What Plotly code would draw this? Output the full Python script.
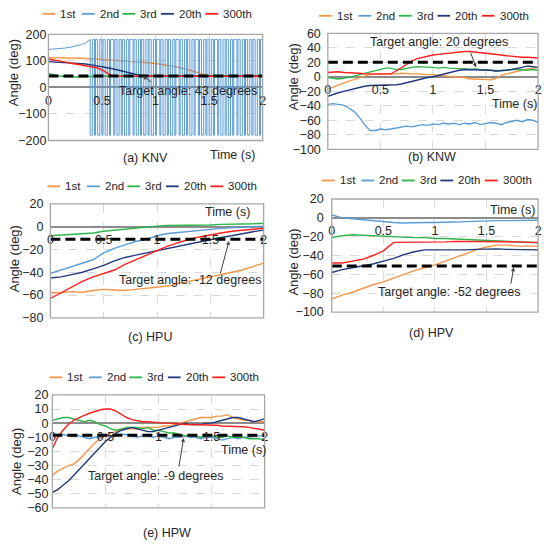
import numpy as np
import plotly.graph_objects as go

# ---------------- data ----------------
SERIES = ["1st", "2nd", "3rd", "20th", "300th"]
COLORS = ["#F79646", "#5B9BD5", "#2EB34B", "#1F3A7A", "#FF1F1F"]
PANEL_NAMES = ["(a) KNV", "(b) KNW", "(c) HPU", "(d) HPV", "(e) HPW"]
TARGET_LABELS = ["Target angle: 43 degrees", "Target angle: 20 degrees",
                 "Target angle: -12 degrees", "Target angle: -52 degrees",
                 "Target angle: -9 degrees"]
TARGET_LINE = [43, 20, -11, -51, -8.5]
X_TICKS = [0, 0.5, 1, 1.5, 2]
X_TICK_TEXT = ["0", "0.5", "1", "1.5", "2"]

T05 = np.round(np.arange(0, 2.0001, 0.05), 2)
T10 = np.round(np.arange(0, 2.0001, 0.1), 1)

# (a) KNV
a_1st = [112, 112, 112, 112, 111, 111, 110, 109, 108, 107, 106, 104, 103, 101, 100, 98, 97, 95, 93, 92,
         90, 87, 84, 81, 77, 72, 67, 61, 55, 49, 44, 42, 41, 41, 41, 41, 41, 41, 41, 41, 41]
a_2nd_t = [0, 0.05, 0.1, 0.15, 0.2, 0.25, 0.3, 0.35, 0.38]
a_2nd_v = [143, 144, 146, 148, 151, 155, 160, 168, 178]
a_2nd_flips = [0.39, 0.41, 0.43, 0.44, 0.46, 0.48, 0.50, 0.51, 0.53, 0.55, 0.57, 0.58, 0.61, 0.62,
               0.64, 0.66, 0.68, 0.69, 0.71, 0.73, 0.75, 0.76, 0.79, 0.80, 0.82, 0.84, 0.86, 0.87,
               0.89, 0.91, 0.93, 0.94, 0.96, 0.98, 1.00, 1.01, 1.04, 1.05, 1.07, 1.09, 1.11, 1.12,
               1.14, 1.16, 1.18, 1.19, 1.22, 1.23, 1.25, 1.27, 1.29, 1.30, 1.32, 1.34, 1.36, 1.37,
               1.40, 1.41, 1.43, 1.45, 1.47, 1.48, 1.50, 1.52, 1.54, 1.55, 1.58, 1.59, 1.61, 1.63,
               1.65, 1.66, 1.68, 1.70, 1.72, 1.73, 1.76, 1.77, 1.79, 1.81, 1.83, 1.84, 1.86, 1.88,
               1.90, 1.91, 1.93, 1.95, 1.97, 1.98]
a_wrap = 180
a_3rd = [53, 47, 43, 41, 39, 39, 40, 41, 42, 42, 42, 42, 42, 42, 42, 42, 42, 42, 42, 42,
         42, 42, 42, 42, 42, 42, 42, 42, 42, 42, 42, 42, 42, 42, 42, 42, 42, 42, 42, 42, 42]
a_20th = [97, 96, 95, 94, 93, 92, 90, 88, 85, 82, 78, 74, 70, 65, 60, 55, 50, 46, 43, 43,
          43, 43, 43, 43, 43, 43, 43, 43, 43, 43, 43, 43, 43, 43, 43, 43, 43, 43, 43, 43, 43]
a_300th = [107, 104, 100, 96, 92, 88, 84, 81, 78, 74, 66, 55, 43, 42, 42, 42, 42, 42, 42, 42,
           42, 42, 42, 42, 42, 42, 42, 42, 42, 42, 42, 42, 42, 42, 42, 42, 42, 42, 42, 42, 42]

# (b) KNW
b_1st = [-17, -14, -11, -9, -6, -4, -1, 1, 3, 3, 4, 3, 4, 4, 5, 4, 4, 4, 3, 3,
         3, 2, 1, 1, 0, -1, -1, -3, -3, -3, -4, -4, -2, 2, 4, 6, 7, 9, 11, 12, 13]
b_2nd = [-38, -37, -38, -39, -43, -48, -56, -66, -74, -74, -72, -73, -72, -71, -70, -68, -69, -67, -66, -67,
         -65, -66, -64, -65, -64, -66, -64, -65, -63, -66, -64, -63, -64, -66, -63, -62, -60, -62, -59, -60, -63]
b_3rd = [-1, -2, -3, -2, -1, 1, 3, 5, 7, 9, 10, 12, 12, 10, 10, 12, 13, 14, 14, 13,
         13, 12, 13, 12, 12, 11, 11, 10, 11, 10, 10, 9, 8, 9, 9, 10, 10, 9, 9, 10, 9]
b_20th = [-27, -24, -22, -20, -18, -16, -14, -13, -12, -12, -12, -11, -11, -11, -10, -8, -6, -5, -3, -1,
          0, 2, 4, 5, 7, 9, 10, 10, 9, 10, 9, 9, 8, 8, 9, 10, 11, 13, 15, 14, 13]
b_300th = [6, 7, 7, 6, 6, 5, 5, 4, 4, 4, 4, 3, 4, 8, 13, 18, 22, 25, 27, 29,
           30, 31, 32, 33, 34, 35, 35, 35, 34, 33, 32, 31, 30, 30, 29, 28, 28, 27, 27, 26, 26]

# (c) HPU
c_1st = [-58, -58, -57, -57.5, -56, -55, -55.5, -56, -55, -54, -53, -52, -50, -48, -46, -44, -42, -40, -38, -35, -32]
c_2nd = [-41, -38, -35, -32, -29, -23, -19, -16, -13, -11, -8, -6, -5, -4, -3, -2, -1.5, -1, -0.5, 0, 0.5]
c_3rd = [-8, -7.5, -7, -6.5, -5.5, -4, -3, -2.5, -1.5, -0.5, 0.5, 1, 1, 1.5, 1.5, 1.5, 2, 2, 2.5, 2.5, 3]
c_20th = [-45, -44, -42, -40, -37, -34, -30, -27, -25, -23, -21, -19, -17, -15, -13, -11, -9.5, -8, -6, -4.5, -3]
c_300th = [-63, -58, -53, -48, -44, -41, -38, -33, -29, -25, -21, -17, -14, -11, -9, -7, -5.5, -4, -3, -2, -1.5]

# (d) HPV
d_1st = [-86, -82, -79, -75, -71, -68, -64, -60, -56, -53, -50, -46, -42, -38, -34, -31, -29, -29, -30, -30, -30]
d_2nd = [3, 0, -1, -2, -3, -4.5, -5, -5.5, -5, -5, -5, -5, -4.5, -4, -3.5, -3.5, -3, -3, -3, -2.5, -2.5]
d_3rd = [-21, -19, -18, -18.5, -19.5, -20, -20.5, -20.5, -21, -21, -22, -22, -22.5, -23, -23.5, -24, -24.5, -25, -25.5, -26, -26.5]
d_20th = [-58, -55, -53, -51, -49, -46, -43, -39, -36, -34, -34, -34, -34.5, -34, -33.5, -33, -33, -33.5, -33.5, -34, -34]
d_300th = [-48, -48, -46, -44, -40, -35, -26, -26, -26, -26, -26, -25.5, -25, -25, -25, -25, -25, -25, -25.5, -26, -26]

# (e) HPW
e_1st = [-37, -34, -32, -30, -29, -26, -22, -18, -14, -11, -9, -7, -6, -5, -4, -4, -4, -3, -3, -3,
         -3, -2, -2, -1, 0, 1, 2, 3, 4, 4, 4, 5, 5, 6, 4, 3, 2, 2, 1, 1, 1]
e_2nd = [-8, -8, -8, -9, -9, -9, -10, -11, -10, -10, -9, -9, -8, -8, -8, -9, -10, -9, -9, -10,
         -9, -10, -11, -10, -10, -9, -10, -10, -11, -10, -10, -11, -12, -11, -10, -11, -10, -10, -9, -9, -9]
e_3rd = [2, 3, 4, 4, 3, 2, 1, 2, 1, -1, -2, -4, -5, -4, -3, -3, -3, -4, -3, -5,
         -5, -6, -7, -7, -8, -9, -9, -9, -10, -9, -9, -10, -10, -9, -10, -10, -10, -11, -11, -11, -12]
e_20th = [-49, -47, -44, -41, -37, -33, -29, -25, -21, -17, -13, -10, -7, -5, -4, -3, -4, -5, -6, -6,
          -5, -4, -3, -2, -1, 0, -1, -1, -1, 0, 0, 1, 2, 3, 4, 4, 3, 2, 1, 2, 3]
e_300th = [-18, -10, -5, -1, 2, 4, 5.5, 7, 8.5, 9.5, 10, 10, 8.5, 6, 4, 2.5, 1.5, 1, 1, 0.5,
           0.5, 0, 0, -0.5, -0.5, -1, -1, -1, -1, -1.5, -1.5, -1.5, -2, -2, -2, -2, -2.5, -3, -3.5, -4, -5]

Y_RANGES = [(-200, 200), (-100, 60), (-80, 20), (-100, 20), (-60, 20)]
Y_DTICK = [100, 20, 20, 20, 10]


def wrapped(t0, v0, flips, lim, t_end=2.0):
    xs, ys = list(t0), list(v0)
    s = lim
    for ft in flips:
        xs += [ft, ft]
        ys += [s, -s]
        s = -s
    xs.append(t_end)
    ys.append(s)
    return xs, ys


a2x, a2y = wrapped(a_2nd_t, a_2nd_v, a_2nd_flips, a_wrap)
PANEL_DATA = [
    [(T05, a_1st), (a2x, a2y), (T05, a_3rd), (T05, a_20th), (T05, a_300th)],
    [(T05, b_1st), (T05, b_2nd), (T05, b_3rd), (T05, b_20th), (T05, b_300th)],
    [(T10, c_1st), (T10, c_2nd), (T10, c_3rd), (T10, c_20th), (T10, c_300th)],
    [(T10, d_1st), (T10, d_2nd), (T10, d_3rd), (T10, d_20th), (T10, d_300th)],
    [(T05, e_1st), (T05, e_2nd), (T05, e_3rd), (T05, e_20th), (T05, e_300th)],
]
ARROW_HEADS = [(0.88, 43), (1.41, 13), (1.675, -12.5), (1.763, -52.5), (1.237, -10.5)]

# ---------------- layout (pixels) ----------------
W, H = 550, 551
FONT = "Liberation Sans, Arial, sans-serif"
BOX_PX = [((46, 263), (28, 137)), ((329, 542), (27, 146)), ((48, 264), (202, 319)),
          ((333, 542), (197, 313)), ((50, 265), (398, 514))]
YLAB_STANDOFF = [1, 6, 6, 7, 3]
TIME_PX = [(232, 152), (518, 100), (227, 210), (516, 208), (244, 455)]
ANGLE_PX = [(10, 67), (294, 72), (12, 258), (294, 262), (13, 466)]
CAPTION_PX = [(144, 155), (435, 154), (149, 339), (434, 334), (166, 540)]
TTEXT_PX = [(187, 86), (442, 36), (189, 280), (452, 292), (155, 481)]
ARROW_OFF = [(10, 7), (-6, -16), (-9, 34), (-3, 18), (-5, 30)]
LEG_PX = [(40, 7), (320, 9), (45, 184), (323, 178), (47, 380)]
LEG_OFFS = [0, 40, 81, 120, 165]


def px(x):
    return x / W


def py(y):
    return 1 - y / H


fig = go.Figure()
layout = dict(width=W, height=H, autosize=False, margin=dict(l=0, r=0, t=0, b=0),
              paper_bgcolor="white", plot_bgcolor="white", showlegend=False,
              font=dict(family=FONT, size=12, color="#262626"))
shapes, annos = [], []

for p in range(5):
    sfx = "" if p == 0 else str(p + 1)
    xa, ya = "x" + sfx, "y" + sfx
    (x0, x1), (yt, yb) = BOX_PX[p]
    ymin, ymax = Y_RANGES[p]
    yd0, yd1 = py(yb), py(yt)
    zero_pos = yd0 + (0 - ymin) / (ymax - ymin) * (yd1 - yd0)
    for i, (tx, vy) in enumerate(PANEL_DATA[p]):
        fig.add_trace(go.Scatter(x=list(tx), y=list(vy), mode="lines", name=SERIES[i],
                                 line=dict(color=COLORS[i], width=1.0 if (p == 0 and i == 1) else 1.4),
                                 xaxis=xa, yaxis=ya))
    fig.add_trace(go.Scatter(x=[0, 2], y=[TARGET_LINE[p]] * 2, mode="lines", name="Target",
                             line=dict(color="black", width=3, dash="10px,5px"),
                             xaxis=xa, yaxis=ya))
    layout["xaxis" + sfx] = dict(domain=[px(x0), px(x1)], range=[0, 2], anchor="free",
                                 position=zero_pos, tickvals=X_TICKS, ticktext=X_TICK_TEXT,
                                 showgrid=True, gridcolor="#D9D9D9", griddash="dash", gridwidth=1,
                                 zeroline=False, showline=False, ticks="", ticklabelstandoff=4,
                                 tickfont=dict(size=12.5, color="#262626"))
    layout["yaxis" + sfx] = dict(domain=[yd0, yd1], range=[ymin, ymax], anchor=xa, dtick=Y_DTICK[p],
                                 showgrid=True, gridcolor="#D9D9D9", griddash="dash", gridwidth=1,
                                 zeroline=True, zerolinecolor="#8C8C8C", zerolinewidth=1.5,
                                 showline=False, ticks="", ticklabelstandoff=YLAB_STANDOFF[p],
                                 tickfont=dict(size=12.5, color="#262626"))
    shapes.append(dict(type="rect", xref=xa + " domain", yref=ya + " domain", x0=0, x1=1, y0=0, y1=1,
                       line=dict(color="#A6A6A6", width=1.3), layer="above"))
    annos.append(dict(text="Time (s)", x=px(TIME_PX[p][0]), y=py(TIME_PX[p][1]), xref="paper", yref="paper",
                      showarrow=False, font=dict(size=12.5), xanchor="center", yanchor="middle"))
    annos.append(dict(text="Angle (deg)", x=px(ANGLE_PX[p][0]), y=py(ANGLE_PX[p][1]), xref="paper",
                      yref="paper", showarrow=False, textangle=-90, font=dict(size=13),
                      xanchor="center", yanchor="middle"))
    annos.append(dict(text=PANEL_NAMES[p], x=px(CAPTION_PX[p][0]), y=py(CAPTION_PX[p][1]), xref="paper",
                      yref="paper", showarrow=False, font=dict(size=12.5), xanchor="center", yanchor="middle"))
    annos.append(dict(text=TARGET_LABELS[p], x=px(TTEXT_PX[p][0]), y=py(TTEXT_PX[p][1]), xref="paper",
                      yref="paper", showarrow=False, font=dict(size=12.5), xanchor="center", yanchor="middle"))
    hx, hy = ARROW_HEADS[p]
    annos.append(dict(text="", x=hx, y=hy, xref=xa, yref=ya, showarrow=True, ax=ARROW_OFF[p][0],
                      ay=ARROW_OFF[p][1], arrowhead=2, arrowsize=0.8, arrowwidth=1, arrowcolor="#404040"))
    lx, ly = LEG_PX[p]
    for i, name in enumerate(SERIES):
        sx = lx + LEG_OFFS[i]
        shapes.append(dict(type="line", xref="paper", yref="paper", x0=px(sx), x1=px(sx + 13),
                           y0=py(ly), y1=py(ly), line=dict(color=COLORS[i], width=1.8)))
        annos.append(dict(text=name, x=px(sx + 16), y=py(ly), xref="paper", yref="paper", showarrow=False,
                          font=dict(size=11.5), xanchor="left", yanchor="middle"))

layout["shapes"] = shapes
layout["annotations"] = annos
fig.update_layout(**layout)
fig.write_html("out.html", config={"displayModeBar": False},
               post_script="document.body.style.margin='0px';")
